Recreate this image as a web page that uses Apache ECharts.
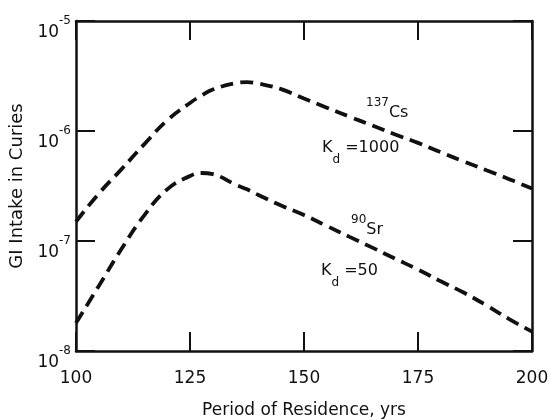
<!DOCTYPE html>
<html>
<head>
<meta charset="utf-8">
<script src="https://cdn.jsdelivr.net/npm/echarts@6/dist/echarts.min.js"></script>
<style>html,body{margin:0;padding:0;background:#fff}#c{width:554px;height:420px}</style>
</head>
<body>
<div id="c"></div>
<script>
// Data
const years = [100,105,110,115,120,125,127.5,130,135,137.5,140,145,150,155,160,165,170,175,180,185,190,195,200];
const cs137 = [1.5e-7,2.7e-7,4.5e-7,7.6e-7,1.25e-6,1.8e-6,2.1e-6,2.38e-6,2.72e-6,2.78e-6,2.7e-6,2.4e-6,1.97e-6,1.63e-6,1.35e-6,1.12e-6,9.3e-7,7.8e-7,6.4e-7,5.3e-7,4.4e-7,3.65e-7,3.0e-7];
const sr90  = [1.8e-8,3.9e-8,8.5e-8,1.72e-7,2.95e-7,3.9e-7,4.15e-7,4.05e-7,3.25e-7,2.95e-7,2.62e-7,2.1e-7,1.72e-7,1.37e-7,1.09e-7,8.7e-8,6.9e-8,5.5e-8,4.3e-8,3.4e-8,2.6e-8,1.95e-8,1.5e-8];
const xTicks = [100,125,150,175,200];
const yDecades = [1e-8,1e-7,1e-6,1e-5];
const xTitle = 'Period of Residence, yrs';
const yTitle = 'GI Intake in Curies';

const FONT = 'DejaVu Sans';
const INK = '#111';
const chart = echarts.init(document.getElementById('c'));
const pair = (ys) => years.map((x, i) => [x, ys[i]]);

const axisLine = () => ({show: true, onZero: false, lineStyle: {color: INK, width: 2.5}});
const tick = () => ({show: true, inside: true, length: 19, lineStyle: {color: INK, width: 2}});
const dash = () => ({color: INK, width: 3.8, type: [13, 7], cap: 'butt'});

chart.setOption({
  backgroundColor: '#fff',
  animation: false,
  grid: {left: 76, right: 22, top: 21, bottom: 69, containLabel: false, outerBoundsMode: 'none'},
  xAxis: [{
    type: 'value', min: xTicks[0], max: xTicks[xTicks.length-1], interval: 25,
    axisLine: axisLine(), axisTick: tick(), splitLine: {show: false},
    axisLabel: {color: INK, fontFamily: FONT, fontSize: 17, margin: 19},
    name: xTitle, nameLocation: 'middle', nameGap: 51,
    nameTextStyle: {color: INK, fontFamily: FONT, fontSize: 17}
  }, {
    type: 'value', position: 'top', min: xTicks[0], max: xTicks[xTicks.length-1], interval: 25,
    axisLine: axisLine(), axisTick: tick(), axisLabel: {show: false}, splitLine: {show: false}
  }],
  yAxis: [{
    type: 'log', logBase: 10, min: yDecades[0], max: yDecades[yDecades.length-1],
    axisLine: axisLine(), axisTick: tick(), splitLine: {show: false}, minorTick: {show: false},
    axisLabel: {
      margin: 5, color: INK, fontFamily: FONT, padding: [11, 0, 0, 0],
      formatter: (v) => '{b|10}{s|' + Math.round(Math.log10(v)) + '}',
      rich: {
        b: {fontSize: 17, fontFamily: FONT, color: INK, verticalAlign: 'bottom', lineHeight: 30},
        s: {fontSize: 12, fontFamily: FONT, color: INK, verticalAlign: 'top', lineHeight: 30, padding: [3,0,0,0]}
      }
    },
    name: yTitle, nameLocation: 'middle', nameGap: 48, nameRotate: 90,
    nameTextStyle: {color: INK, fontFamily: FONT, fontSize: 18}
  }, {
    type: 'log', logBase: 10, position: 'right', min: yDecades[0], max: yDecades[yDecades.length-1],
    axisLine: axisLine(), axisTick: tick(), axisLabel: {show: false}, splitLine: {show: false}
  }],
  series: [{
    name: '137Cs', type: 'line', data: pair(cs137), showSymbol: false,
    smooth: 0.45, lineStyle: dash()
  }, {
    name: '90Sr', type: 'line', data: pair(sr90), showSymbol: false,
    smooth: 0.45, lineStyle: dash()
  }],
  graphic: [
    {type: 'text', left: 366, top: 97, style: {text: '{s|137}{n|Cs}', rich: {
      s: {fontSize: 12, fontFamily: FONT, fill: INK, verticalAlign: 'top', lineHeight: 24},
      n: {fontSize: 16, fontFamily: FONT, fill: INK, verticalAlign: 'bottom', lineHeight: 24}}}},
    {type: 'text', left: 322, top: 140, style: {text: '{n|K}{d|d}{n| =1000}', rich: {
      n: {fontSize: 16, fontFamily: FONT, fill: INK, verticalAlign: 'top', lineHeight: 26},
      d: {fontSize: 12, fontFamily: FONT, fill: INK, verticalAlign: 'bottom', lineHeight: 26}}}},
    {type: 'text', left: 351, top: 214, style: {text: '{s|90}{n|Sr}', rich: {
      s: {fontSize: 12, fontFamily: FONT, fill: INK, verticalAlign: 'top', lineHeight: 24},
      n: {fontSize: 16, fontFamily: FONT, fill: INK, verticalAlign: 'bottom', lineHeight: 24}}}},
    {type: 'text', left: 321, top: 263, style: {text: '{n|K}{d|d}{n| =50}', rich: {
      n: {fontSize: 16, fontFamily: FONT, fill: INK, verticalAlign: 'top', lineHeight: 26},
      d: {fontSize: 12, fontFamily: FONT, fill: INK, verticalAlign: 'bottom', lineHeight: 26}}}}
  ]
});
</script>
</body>
</html>
